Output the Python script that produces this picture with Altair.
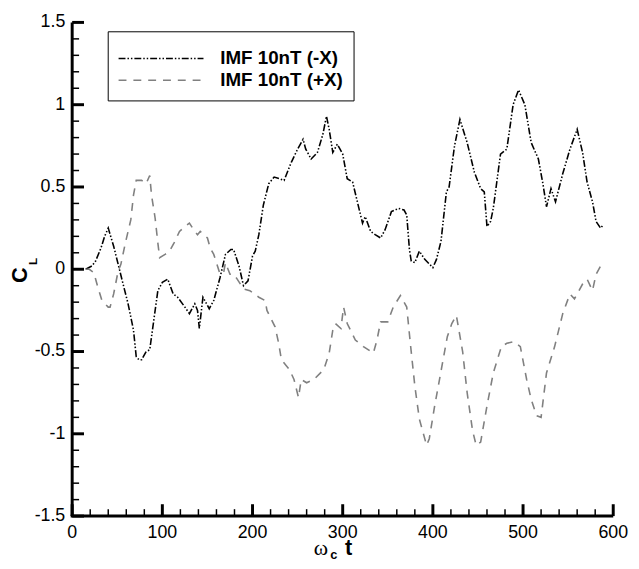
import altair as alt
import pandas as pd

FONT = "Liberation Sans"

series_names = ["IMF 10nT (-X)", "IMF 10nT (+X)"]

minus_t = [15, 22, 26, 32, 36, 40, 46, 51, 56, 62, 68, 71, 74, 77, 82, 86, 90, 95, 100, 106,
           112, 117, 125, 130, 136, 139, 141, 145, 152, 157, 164, 170, 176, 179, 185, 190, 195, 200, 203, 207,
           212, 218, 224, 230, 235, 243, 250, 256, 259, 265, 272, 278, 282, 285, 289, 294, 300, 305, 311, 318,
           322, 325, 331, 336, 342, 347, 354, 362, 368, 371, 374, 376, 380, 385, 391, 400, 404, 409, 415, 418,
           424, 430, 438, 446, 453, 457, 460, 464, 467, 475, 482, 489, 495, 502, 509, 517, 522, 526, 531, 536,
           544, 552, 560, 566, 571, 577, 581, 586, 589]
minus_cl = [0.0, 0.02, 0.05, 0.13, 0.2, 0.25, 0.14, 0.03, -0.08, -0.21, -0.37, -0.53, -0.55, -0.55, -0.5, -0.49, -0.33, -0.13, -0.08, -0.06,
            -0.15, -0.17, -0.23, -0.27, -0.21, -0.25, -0.36, -0.17, -0.24, -0.19, -0.05, 0.09, 0.12, 0.12, 0.02, -0.1, -0.07, 0.08, 0.11, 0.21,
            0.39, 0.52, 0.56, 0.55, 0.54, 0.65, 0.73, 0.79, 0.73, 0.67, 0.71, 0.82, 0.93, 0.85, 0.71, 0.76, 0.70, 0.55, 0.53, 0.37,
            0.28, 0.32, 0.23, 0.21, 0.19, 0.24, 0.35, 0.37, 0.36, 0.33, 0.12, 0.05, 0.04, 0.11, 0.06, 0.01, 0.06, 0.17, 0.47, 0.5,
            0.75, 0.91, 0.77, 0.59, 0.49, 0.47, 0.26, 0.29, 0.37, 0.70, 0.73, 1.0, 1.09, 1.0, 0.77, 0.67, 0.52, 0.38, 0.49, 0.41,
            0.58, 0.73, 0.85, 0.71, 0.53, 0.41, 0.29, 0.25, 0.27]

plus_t = [15, 19, 24, 28, 33, 40, 42, 46, 51, 54, 59, 65, 68, 71, 77, 82, 86, 88, 92, 95,
          97, 103, 108, 113, 119, 125, 130, 136, 139, 142, 150, 153, 157, 160, 164, 168, 170, 175, 179, 183,
          190, 197, 207, 214, 216, 225, 229, 232, 241, 246, 251, 254, 260, 268, 279, 285, 289, 292, 298, 301,
          305, 314, 323, 334, 338, 342, 350, 356, 364, 371, 375, 380, 385, 393, 396, 402, 409, 416, 421, 426,
          433, 438, 444, 448, 453, 460, 467, 476, 482, 490, 497, 504, 509, 515, 520, 526, 535, 544, 552, 557,
          566, 571, 577, 581, 588, 590]
plus_cl = [0.0, 0.0, -0.02, -0.1, -0.19, -0.23, -0.23, -0.15, -0.01, 0.03, 0.16, 0.30, 0.45, 0.54, 0.54, 0.52, 0.57, 0.45, 0.31, 0.16,
           0.07, 0.09, 0.11, 0.16, 0.23, 0.26, 0.28, 0.23, 0.21, 0.23, 0.19, 0.13, 0.09, 0.04, -0.03, -0.02, 0.04, -0.03, -0.03, -0.06,
           -0.12, -0.13, -0.17, -0.19, -0.25, -0.35, -0.45, -0.55, -0.61, -0.67, -0.78, -0.67, -0.69, -0.67, -0.61, -0.51, -0.37, -0.33, -0.36, -0.23,
           -0.33, -0.43, -0.47, -0.51, -0.43, -0.32, -0.32, -0.23, -0.16, -0.23, -0.45, -0.71, -0.91, -1.07, -1.03, -0.83, -0.62, -0.41, -0.33, -0.28,
           -0.5, -0.75, -0.98, -1.07, -1.05, -0.83, -0.63, -0.47, -0.45, -0.44, -0.47, -0.67, -0.79, -0.89, -0.9, -0.63, -0.47, -0.27, -0.15, -0.18,
           -0.09, -0.06, -0.13, -0.03, 0.04, 0.05]

x_major = [0, 100, 200, 300, 400, 500, 600]
x_labels = ["0", "100", "200", "300", "400", "500", "600"]
x_minor = [20, 40, 60, 80, 120, 140, 160, 180, 220, 240, 260, 280,
           320, 340, 360, 380, 420, 440, 460, 480, 520, 540, 560, 580]
y_major = [-1.5, -1, -0.5, 0, 0.5, 1, 1.5]
y_labels = ["-1.5", "-1", "-0.5", "0", "0.5", "1", "1.5"]
y_minor = [-1.4, -1.3, -1.2, -1.1, -0.9, -0.8, -0.7, -0.6, -0.4, -0.3, -0.2, -0.1,
           0.1, 0.2, 0.3, 0.4, 0.6, 0.7, 0.8, 0.9, 1.1, 1.2, 1.3, 1.4]

y_title = ["C", "L"]
x_title = ["\u03c9", "c", "t"]

df = pd.concat([
    pd.DataFrame({"t": minus_t, "cl": minus_cl, "series": series_names[0], "ord": range(len(minus_t))}),
    pd.DataFrame({"t": plus_t, "cl": plus_cl, "series": series_names[1], "ord": range(len(plus_t))}),
], ignore_index=True)

W, H = 548, 500
MAJOR, MINOR = 12, 7

xs = alt.Scale(domain=[0, 600], nice=False, zero=False)
ys = alt.Scale(domain=[-1.5, 1.5], nice=False, zero=False)

leg = alt.Legend(
    title=" ", titleFontSize=4, titlePadding=4,
    orient="none", legendX=36, legendY=9,
    strokeColor="black", fillColor="white", padding=10,
    symbolType="stroke", symbolSize=7396, symbolStrokeWidth=1.6,
    labelFontSize=19, labelFont=FONT, labelFontWeight="bold", labelColor="black",
    labelOffset=16, clipHeight=19, rowPadding=2,
)

color_scale = alt.Scale(domain=series_names, range=["black", "#808080"])
dash_scale = alt.Scale(domain=series_names, range=[[7, 2, 1.5, 2, 1.5, 2], [8, 7]])

lines = alt.Chart(df).mark_line(strokeWidth=1.6).encode(
    x=alt.X("t:Q", scale=xs, axis=None),
    y=alt.Y("cl:Q", scale=ys, axis=None),
    color=alt.Color("series:N", scale=color_scale, legend=leg),
    strokeDash=alt.StrokeDash("series:N", scale=dash_scale, legend=leg),
    detail="series:N",
    order="ord:Q",
)

one = pd.DataFrame({"k": [0]})
x_domain = alt.Chart(one).mark_rule(color="black", strokeWidth=3).encode(
    x=alt.value(-1.5), x2=alt.value(W), y=alt.value(H))
y_domain = alt.Chart(one).mark_rule(color="black", strokeWidth=3).encode(
    x=alt.value(0), y=alt.value(0), y2=alt.value(H))


def xticks(vals, size, width):
    return alt.Chart(pd.DataFrame({"xt": vals})).mark_tick(
        color="black", orient="vertical", size=size, thickness=width, opacity=1
    ).encode(x=alt.X("xt:Q", scale=xs, axis=None), y=alt.value(H - size / 2))


def yticks(vals, size, width):
    return alt.Chart(pd.DataFrame({"yt": vals})).mark_tick(
        color="black", orient="horizontal", size=size, thickness=width, opacity=1
    ).encode(y=alt.Y("yt:Q", scale=ys, axis=None), x=alt.value(size / 2))


tick_layers = [xticks(x_major, MAJOR, 3), xticks(x_minor, MINOR, 1.5),
               yticks(y_major, MAJOR, 3), yticks(y_minor, MINOR, 1.5)]

x_lab = alt.Chart(pd.DataFrame({"v": x_major, "s": x_labels})).mark_text(
    font=FONT, fontSize=18, color="black", align="center", baseline="top"
).encode(x=alt.X("v:Q", scale=xs, axis=None), y=alt.value(H + 8), text="s:N")
y_lab = alt.Chart(pd.DataFrame({"v": y_major, "s": y_labels})).mark_text(
    font=FONT, fontSize=18, color="black", align="right", baseline="middle"
).encode(y=alt.Y("v:Q", scale=ys, axis=None), x=alt.value(-7), text="s:N")

yt_c = alt.Chart(pd.DataFrame({"s": [y_title[0]]})).mark_text(
    font=FONT, fontSize=22, fontWeight="bold", angle=270, align="center", baseline="middle", color="black"
).encode(text="s:N", x=alt.value(-53), y=alt.value(256))
yt_l = alt.Chart(pd.DataFrame({"s": [y_title[1]]})).mark_text(
    font=FONT, fontSize=12, fontWeight="bold", angle=270, align="center", baseline="middle", color="black"
).encode(text="s:N", x=alt.value(-40), y=alt.value(242))

xt_w = alt.Chart(pd.DataFrame({"s": [x_title[0]]})).mark_text(
    font="Liberation Serif", fontSize=22, align="center", baseline="alphabetic", color="black"
).encode(text="s:N", x=alt.value(252), y=alt.value(539))
xt_c = alt.Chart(pd.DataFrame({"s": [x_title[1]]})).mark_text(
    font=FONT, fontSize=13, fontWeight="bold", align="center", baseline="alphabetic", color="black"
).encode(text="s:N", x=alt.value(265), y=alt.value(543))
xt_t = alt.Chart(pd.DataFrame({"s": [x_title[2]]})).mark_text(
    font=FONT, fontSize=22, fontWeight="bold", align="center", baseline="alphabetic", color="black"
).encode(text="s:N", x=alt.value(280), y=alt.value(539))

chart = alt.layer(lines, x_domain, y_domain, *tick_layers, x_lab, y_lab,
                  yt_c, yt_l, xt_w, xt_c, xt_t).properties(
    width=W, height=H,
    autosize=alt.AutoSizeParams(type="none"),
    padding={"left": 65, "top": 11, "right": 18, "bottom": 50},
).configure_view(stroke=None)

chart.save("out.html", embed_options={"renderer": "svg", "actions": False})
